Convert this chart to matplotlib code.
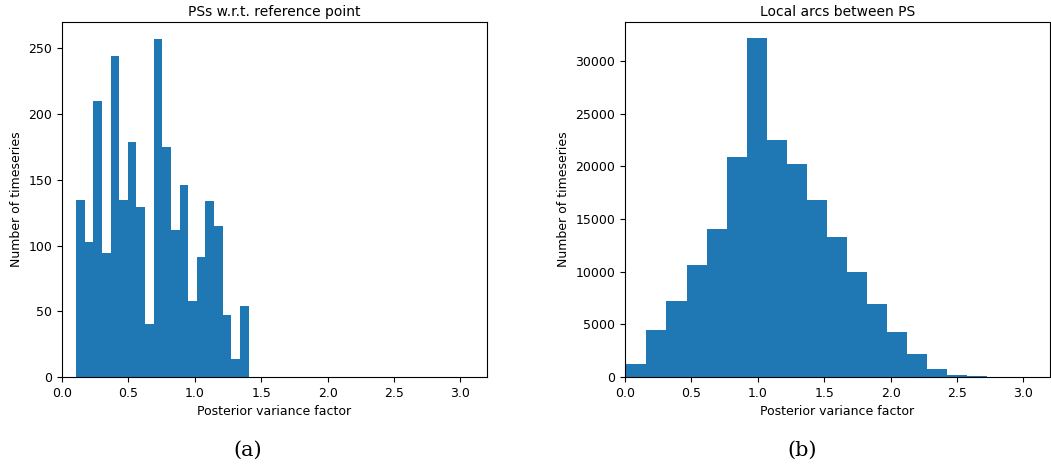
import matplotlib.pyplot as plt
import numpy as np

# histogram counts
ref_counts = [135, 103, 210, 94, 244, 135, 179, 129, 40, 257,
              175, 112, 146, 58, 91, 134, 115, 47, 14, 54]
ref_range = (0.106, 1.405)

arc_counts = [1210, 4430, 7240, 10650, 14060, 20850, 32140, 22500, 20220, 16800,
              13300, 9950, 6890, 4270, 2170, 730, 220, 60, 15, 4]
arc_range = (0.01, 3.03)

titles = ["PSs w.r.t. reference point", "Local arcs between PS"]
captions = ["(a)", "(b)"]

fig = plt.figure(figsize=(10.51, 4.72), dpi=100)
ax1 = fig.add_axes([0.059, 0.2013, 0.4044, 0.752])
ax2 = fig.add_axes([0.5947, 0.2013, 0.4044, 0.752])

for ax, counts, rng, title in [(ax1, ref_counts, ref_range, titles[0]),
                               (ax2, arc_counts, arc_range, titles[1])]:
    edges = np.linspace(rng[0], rng[1], len(counts) + 1)
    ax.hist(edges[:-1], bins=edges, weights=counts, color='#1f77b4')
    ax.set_xlim(0, 3.2)
    ax.set_title(title, fontsize=10, pad=4)
    ax.set_xlabel("Posterior variance factor", fontsize=9)
    ax.set_ylabel("Number of timeseries", fontsize=9)
    ax.tick_params(labelsize=9)

ax1.set_ylim(0, 270)
ax2.set_ylim(0, 33700)

fig.text(0.236, 0.035, captions[0], fontsize=15, family='DejaVu Serif', ha='center')
fig.text(0.763, 0.035, captions[1], fontsize=15, family='DejaVu Serif', ha='center')

fig.savefig("out.png", dpi=100)
